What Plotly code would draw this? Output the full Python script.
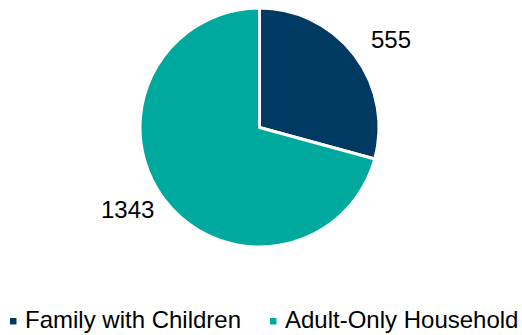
import math
import plotly.graph_objects as go

categories = ["Family with Children", "Adult-Only Household"]
values = [555, 1343]
colors = ["#003A63", "#00A99D"]

W, H = 522, 335
FONT = "Liberation Sans, Arial, sans-serif"

# pie geometry in pixels (center and radius)
CX, CY, R = 259.5, 127.5, 119.5

fig = go.Figure(
    go.Pie(
        labels=categories,
        values=values,
        sort=False,
        direction="clockwise",
        rotation=0,
        marker=dict(colors=colors, line=dict(color="white", width=3)),
        textinfo="none",
        domain=dict(x=[(CX - R) / W, (CX + R) / W], y=[1 - (CY + R) / H, 1 - (CY - R) / H]),
        hoverinfo="label+value",
        showlegend=False,
    )
)

# value labels just outside each slice
total = sum(values)
label_r = 157
angle_shift = 4.5
cum = 0
annotations = []
for v in values:
    mid = (cum + v / 2) / total * 360 + angle_shift
    cum += v
    a = math.radians(mid)
    px = CX + label_r * math.sin(a)
    py = CY - label_r * math.cos(a) - 3
    annotations.append(
        dict(
            x=px / W, y=1 - py / H, xref="paper", yref="paper",
            text=str(v), showarrow=False,
            xanchor="center", yanchor="middle",
            font=dict(family=FONT, size=24, color="#000000"),
        )
    )

# legend row along the bottom
legend_y = 319.5
marker_x = [10, 270]
text_x = [22.5, 282.5]
shapes = []
for name, col, mx, tx in zip(categories, colors, marker_x, text_x):
    shapes.append(
        dict(
            type="rect", xref="paper", yref="paper",
            x0=mx / W, x1=(mx + 6.5) / W,
            y0=1 - 324.5 / H, y1=1 - 318 / H,
            fillcolor=col, line=dict(width=0),
        )
    )
    annotations.append(
        dict(
            x=tx / W, y=1 - legend_y / H, xref="paper", yref="paper",
            text=name, showarrow=False,
            xanchor="left", yanchor="middle",
            font=dict(family=FONT, size=24, color="#000000"),
        )
    )

fig.update_layout(
    width=W,
    height=H,
    margin=dict(l=0, r=0, t=0, b=0),
    paper_bgcolor="white",
    plot_bgcolor="white",
    annotations=annotations,
    shapes=shapes,
)

fig.write_html("out.html")
